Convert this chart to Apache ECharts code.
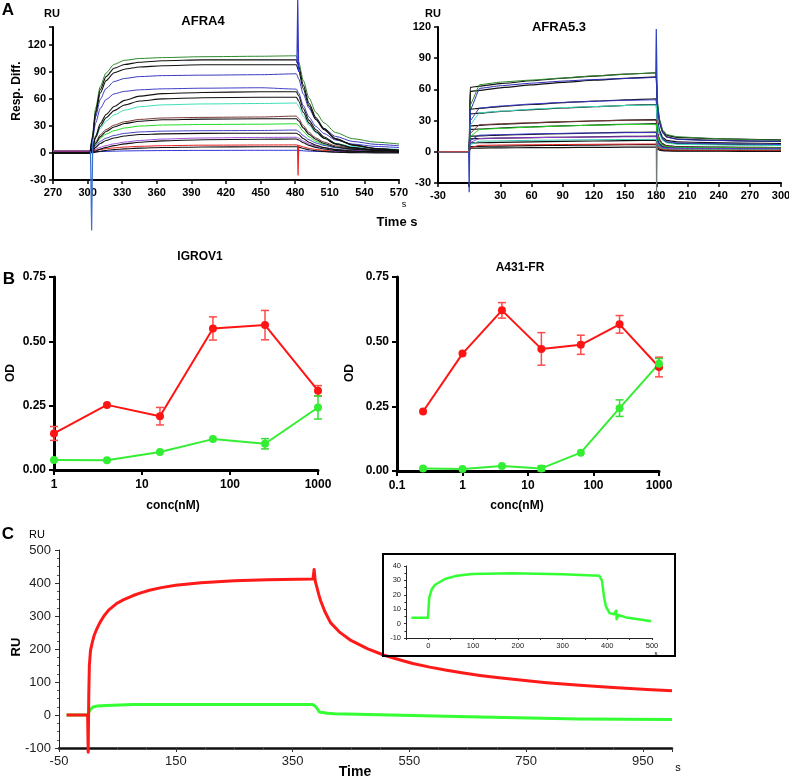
<!DOCTYPE html>
<html><head><meta charset="utf-8">
<script src="https://cdn.jsdelivr.net/npm/echarts/dist/echarts.min.js"></script>
<style>html,body{margin:0;padding:0;background:#fff}#c{width:789px;height:780px}</style>
</head><body><div id="c"></div>
<script>
// ---------- Panel A left: AFRA4 (time s, RU) ----------
const afra4Time = [270, 302, 304, 307, 311, 316, 323, 332, 345, 365, 400, 450, 481, 483, 487, 492, 498, 505, 515, 530, 550, 570];
const afra4Green108 = [2,2,18,50,74,89,98.5,103,105,106,107,107.5,108, 101,80.6,61,45,33.5,22.7,15.9,12,10];
const afra4Blue87   = [2,2,14.8,40.3,59.8,71.7,79.4,82.8,84.9,86,86.5,87,88, 82.4,65.6,49.6,36.8,27.2,18.4,12.8,9.6,8];
const afra4Blue72   = [2,2,12.5,33.5,49.6,59.4,65.7,68.5,70.2,71.3,72,72.5,71, 66.5,52.8,39.8,29.4,21.6,14.5,9.9,7.3,6];
const afra4Cyan55   = [2,2,6.2,16.8,27.4,35.4,42.3,47.6,51.4,53.5,54.5,55,55.5, 51.9,41.1,30.8,22.5,16.4,10.7,7.1,5,4];
const afra4Brown40  = [2,2,5,12.6,20.2,26,31,34.7,37.3,38.9,39.6,40,41, 38.3,30.4,22.8,16.7,12.1,7.9,5.3,3.8,3];
const afra4Lime32   = [2,2,4.4,10.4,16.4,21,24.8,27.8,29.9,31.1,31.7,32,32.5, 30.4,24,17.9,13,9.3,6,3.8,2.6,2];
const afra4Blue25   = [2,2,3.8,8.4,13,16.5,19.5,21.8,23.4,24.3,24.8,25,25.5, 23.9,19.2,14.7,11.1,8.4,5.9,4.4,3.5,3];
const afra4Purple17 = [2,2,2.8,4.3,6.3,8.2,10.2,12.1,13.9,15.5,16.7,17.3,17.5, 16.4,13.2,10.1,7.6,5.7,4,2.9,2.3,2];
const afra4Red9     = [2,2,2.4,3,4,4.8,5.7,6.6,7.4,8.1,8.7,8.9,9, 8.4,6.8,5.2,3.9,2.9,2,1.5,1.2,1];
const afra4Blue3    = [1,1,1,1.3,1.6,1.8,2,2.3,2.5,2.7,2.9,3,3, 2.9,2.4,2,1.7,1.5,1.3,1.1,1,1];
const afra4Fit103 = [0,0,15.5,46.6,70.4,84.9,94.2,98.3,100.9,102.5,103.5,103.5,103.5, 96.5,75.4,55.3,39.2,27.1,16.1,9,5,3];
const afra4Fit98  = [0,0,14.7,44.1,66.6,80.4,89.2,93.1,95.6,97,98,98,98, 91.4,71.4,52.4,37.2,25.8,15.4,8.7,4.9,3];
const afra4Fit68  = [0,0,5.4,19,32.6,42.8,51.7,58.5,63.2,66,67.3,68,68, 63.4,49.5,36.3,25.8,17.8,10.6,6,3.3,2];
const afra4Fit62  = [0,0,5,17.4,29.8,39.1,47.1,53.3,57.7,60.1,61.4,62,62, 57.8,45.2,33.2,23.6,16.4,9.8,5.6,3.2,2];
const afra4Fit38  = [0,0,3,10.6,18.2,23.9,28.9,32.7,35.3,36.9,37.6,38,38, 35.5,27.9,20.7,15,10.6,6.7,4.2,2.7,2];
const afra4Fit22  = [0,0,1.8,6.2,10.6,13.9,16.7,18.9,20.5,21.3,21.8,22,22, 20.5,16.1,11.9,8.6,6,3.7,2.3,1.4,1];
const afra4Fit15  = [0,0,0.8,2.3,4.3,6.2,8.2,10.1,11.9,13.5,14.7,15.3,15.5, 14.5,11.4,8.5,6.2,4.5,2.9,1.9,1.3,1];
const afra4Fit7   = [0,0,0.4,1,2,2.8,3.7,4.6,5.4,6.1,6.7,6.9,7, 6.5,5,3.6,2.5,1.7,0.9,0.4,0.1,0];
const afra4InjSpike = [[302.5, 2], [303.5, -86], [304.5, 15]];
const afra4EndSpike = [[481.5, 100], [482.2, 170], [483, 90]];
const afra4RedSpike = [[482, 9], [482.5, -25], [483, 8]];
const afra4YTicks = [-30, 0, 30, 60, 90, 120];

// ---------- Panel A right: AFRA5.3 ----------
const afra53Time = [-30, 0, 1, 10, 30, 60, 90, 120, 150, 180, 181, 183, 186, 190, 200, 230, 260, 300];
const afra53Green = [0,0,45,64.5,67,69,71,73,74.5,76, 50,32,21,16.5,14.5,13,12,11];
const afra53Blue1 = [0,0,40,61,63.5,66,68,69.5,70.5,71.5, 45,29,19,14,12,11,10.5,10];
const afra53Blue2 = [0,0,30,42,44,46,47.5,48.5,49.5,50, 30,19,12.5,10,8.5,8,7.5,7];
const afra53Cyan  = [0,0,26,37.5,39,41,42.5,43.5,44.5,45, 27,17,11,8.5,7.2,6.7,6.3,6];
const afra53Brown = [0,0,18,26,27,28,29,29.8,30.3,30.5, 18.5,11.5,7.5,5.6,4.8,4.4,4.2,4];
const afra53Lime  = [0,0,15,21.5,22.5,23.8,24.8,25.6,26.2,26.5, 16,10,6.5,5,4.2,3.9,3.7,3.5];
const afra53Blue3 = [0,0,11,16,16.5,17.2,17.7,18.1,18.4,18.5, 11.5,7.5,5,4,3.5,3.3,3.1,3];
const afra53Purple= [0,0,9,12.8,13.2,13.6,14,14.2,14.4,14.5, 9,6,4,3.3,2.9,2.7,2.6,2.5];
const afra53Teal  = [0,0,7,10.2,10.5,11,11.3,11.6,11.8,12, 7.5,5,3.3,2.6,2.3,2.2,2.1,2];
const afra53Red   = [0,0,4,6.2,6.5,6.8,7,7.2,7.4,7.5, 4.8,3.2,2.2,1.8,1.6,1.5,1.5,1.5];
const afra53FitA = [0,0,62,63.1,65.5,68.3,70.7,72.8,74.6,76, 47,30.9,20.5,16,13.8,12.8,12.1,11.5];
const afra53FitB = [0,0,58,59.1,61.5,64.3,66.7,68.8,70.6,72, 44.1,28.6,18.7,14.3,12.2,11.2,10.6,10];
const afra53FitC = [0,0,41,41.8,43.5,45.5,47.2,48.7,50,51, 31.7,20.9,14,11,9.5,8.9,8.4,8];
const afra53FitD = [0,0,36.5,37.2,38.8,40.6,42.1,43.4,44.6,45.5, 28,18.2,12,9.2,7.9,7.3,6.9,6.5];
const afra53FitE = [0,0,25,25.5,26.5,27.7,28.7,29.6,30.4,31, 18.9,12.1,7.8,5.9,4.9,4.5,4.3,4];
const afra53FitF = [0,0,21.5,21.9,22.9,24,24.9,25.7,26.5,27, 16.4,10.6,6.8,5.1,4.3,4,3.7,3.5];
const afra53FitG = [0,0,15,15.3,16,16.8,17.5,18.1,18.6,19, 11.8,7.8,5.2,4.1,3.6,3.3,3.2,3];
const afra53FitH = [0,0,12.5,12.7,13.1,13.6,14,14.4,14.8,15, 9.4,6.3,4.3,3.4,2.9,2.8,2.6,2.5];
const afra53FitI = [0,0,8.5,8.7,9.1,9.6,10,10.4,10.8,11, 7,4.7,3.3,2.6,2.3,2.2,2.1,2];
const afra53FitJ = [0,0,5,5.2,5.5,5.9,6.2,6.5,6.8,7, 4.3,2.8,1.8,1.4,1.2,1.1,1.05,1];
const afra53FitK = [0,0,3.5,3.6,3.8,4,4.1,4.3,4.4,4.5, 2.7,1.7,1.1,0.8,0.6,0.55,0.5,0.5];
const afra53InjSpike = [[-0.5, 0], [0, -39], [0.8, 40]];
const afra53EndSpike = [[179.5, 72], [180, 118], [181, 45]];
const afra53GreySpike = [[180, 10], [180.3, -39], [180.8, 5]];

// ---------- Panel B: ELISA OD vs conc(nM) ----------
const igrovConc = [1, 4, 16, 64, 250, 1000];
const igrovRed = [0.142, 0.253, 0.209, 0.550, 0.563, 0.308];
const igrovRedErr = [0.027, 0, 0.034, 0.045, 0.057, 0.02];
const igrovGreen = [0.039, 0.038, 0.070, 0.120, 0.102, 0.243];
const igrovGreenErr = [0, 0, 0, 0, 0.02, 0.045];
const a431Conc = [0.25, 1, 4, 16, 64, 250, 1000];
const a431Red = [0.230, 0.454, 0.621, 0.472, 0.488, 0.567, 0.402];
const a431RedErr = [0, 0, 0.03, 0.063, 0.037, 0.034, 0.038];
const a431Green = [0.010, 0.008, 0.019, 0.010, 0.071, 0.243, 0.415];
const a431GreenErr = [0, 0, 0, 0.01, 0, 0.032, 0.02];

// ---------- Panel C: sensorgram ----------
const cRedTime = [-37, -1, 0, 1, 2, 4, 7, 10, 15, 20, 27, 35, 48, 60, 77, 90, 105, 125, 150, 193, 250, 307, 385, 387, 389, 392, 395, 398, 405, 415, 430, 450, 478, 507, 536, 556, 585, 614, 640, 671, 700, 728, 785, 842, 899, 957, 1000];
const cRedRU   = [0, 0, -113, 60, 150, 196, 220, 240, 262, 280, 300, 318, 337, 349, 362, 370, 378, 386, 393, 401, 407, 410, 412, 441, 405, 385, 365, 347, 315, 280, 252, 226, 201, 181, 166, 156, 145, 135.5, 128, 120, 113.5, 108, 98, 90, 83.5, 77.5, 73.5];
const cGreenTime = [-37, -1, 1, 3, 8, 15, 31, 77, 193, 300, 385, 390, 396, 410, 422, 499, 536, 671, 842, 1000];
const cGreenRU   = [0, 0, 3, 15, 24, 27, 29, 32, 32, 31.5, 31.5, 25, 9, 5, 4, 1, -1, -6, -12, -14];
const insetTime = [-38, -1, 0, 2, 7.5, 15, 37, 60, 97, 187, 300, 382, 388, 393, 397, 405, 415, 420, 421, 425, 442, 470, 498];
const insetRU   = [4, 4, 5, 18, 23.8, 27, 31, 33, 34.5, 35, 34.2, 33.3, 30, 18, 11.9, 7.3, 6.5, 9, 3, 6, 4.3, 3, 1.6];

// ---------- build ----------
const FONT = 'Liberation Sans, Arial, sans-serif';
const zip = (xs, ys) => xs.map((x, i) => [x, ys[i]]);
const BLK = '#111';

function trace(xi, yi, xs, ys, color, w, sm) {
  const s = {type:'line', xAxisIndex:xi, yAxisIndex:yi, data: zip(xs, ys), symbol:'none', showSymbol:false,
          lineStyle:{color:color, width:w||1, join:'round'}, itemStyle:{color:color}, silent:true};
  if (sm !== 0) { s.smooth = sm || 0.25; s.smoothMonotone = 'x'; }
  return s;
}
function spike(xi, yi, pts, color) {
  return {type:'line', xAxisIndex:xi, yAxisIndex:yi, data: pts, symbol:'none', clip:false,
          lineStyle:{color:color, width:1.2}, silent:true, z:4};
}
function errBars(xi, yi, xs, ys, es, color) {
  return {type:'custom', xAxisIndex:xi, yAxisIndex:yi, silent:true, z:3,
    data: xs.map((x,i)=>[x, ys[i], es[i]]).filter(d=>d[2]>0),
    encode:{x:0, y:1},
    renderItem: function(params, api) {
      const x = api.value(0), y = api.value(1), e = api.value(2);
      const t = api.coord([x, y+e]), b = api.coord([x, y-e]), w = 4;
      const st = {stroke:color, lineWidth:1.5};
      return {type:'group', children:[
        {type:'line', shape:{x1:t[0], y1:t[1], x2:b[0], y2:b[1]}, style:st},
        {type:'line', shape:{x1:t[0]-w, y1:t[1], x2:t[0]+w, y2:t[1]}, style:st},
        {type:'line', shape:{x1:b[0]-w, y1:b[1], x2:b[0]+w, y2:b[1]}, style:st}
      ]};
    }};
}
function dots(xi, yi, xs, ys, color) {
  return {type:'line', xAxisIndex:xi, yAxisIndex:yi, data: zip(xs, ys), symbol:'circle', symbolSize:8, showSymbol:true,
          lineStyle:{color:color, width:2}, itemStyle:{color:color}, silent:true, z:4};
}

const series = [];
// A left
[[afra4Green108,'#2e8b2e'],[afra4Blue87,'#3a3ac0'],[afra4Blue72,'#4040c8'],[afra4Cyan55,'#3ee0b8'],
 [afra4Brown40,'#7a3a3a'],[afra4Lime32,'#22dd22'],[afra4Blue25,'#4444cc'],[afra4Purple17,'#a050e0'],
 [afra4Red9,'#e82020'],[afra4Blue3,'#3333dd']].forEach(p => series.push(trace(0,0,afra4Time,p[0],p[1])));
[afra4Fit103,afra4Fit98,afra4Fit68,afra4Fit62,afra4Fit38,afra4Fit22,afra4Fit15,afra4Fit7]
  .forEach(v => series.push(trace(0,0,afra4Time,v,BLK,1.1)));
series.push(spike(0,0,afra4InjSpike,'#3a70d0'));
series.push(spike(0,0,afra4EndSpike,'#3333cc'));
series.push(spike(0,0,afra4RedSpike,'#e82020'));
// A right
[afra53FitA,afra53FitB,afra53FitC,afra53FitD,afra53FitE,afra53FitF,afra53FitG,afra53FitH,afra53FitI,afra53FitJ,afra53FitK]
  .forEach(v => series.push(trace(1,1,afra53Time,v,BLK,1.2,0.1)));
[[afra53Green,'#2e8b2e'],[afra53Blue1,'#2a2ab8'],[afra53Blue2,'#3a3ac8'],[afra53Cyan,'#3ee0c0'],
 [afra53Brown,'#7a3a3a'],[afra53Lime,'#22dd22'],[afra53Blue3,'#3434c4'],[afra53Purple,'#9a44dd'],
 [afra53Teal,'#30c8b0'],[afra53Red,'#e82020']].forEach(p => series.push(trace(1,1,afra53Time,p[0],p[1],1,0.1)));
series.push(spike(1,1,afra53InjSpike,'#2a40c0'));
series.push(spike(1,1,afra53EndSpike,'#2a40c0'));
series.push(spike(1,1,afra53GreySpike,'#707878'));
// B
series.push(dots(2,2,igrovConc,igrovRed,'#ff1414'));
series.push(dots(2,2,igrovConc,igrovGreen,'#33ee33'));
series.push(errBars(2,2,igrovConc,igrovRed,igrovRedErr,'#ff4a4a'));
series.push(errBars(2,2,igrovConc,igrovGreen,igrovGreenErr,'#33dd33'));
series.push(dots(3,3,a431Conc,a431Red,'#ff1414'));
series.push(dots(3,3,a431Conc,a431Green,'#33ee33'));
series.push(errBars(3,3,a431Conc,a431Red,a431RedErr,'#ff4a4a'));
series.push(errBars(3,3,a431Conc,a431Green,a431GreenErr,'#33dd33'));
// C
series.push(trace(4,4,cGreenTime,cGreenRU,'#33ff33',3,0));
series.push(Object.assign(trace(4,4,cRedTime,cRedRU,'#ff1a1a',3,0), {clip:false}));
series.push(trace(5,5,insetTime,insetRU,'#33ff33',2.5,0));

function axA(extra) {
  return Object.assign({type:'value', splitLine:{show:false},
    axisLine:{onZero:false, lineStyle:{color:'#000', width:2}},
    axisTick:{length:4, lineStyle:{color:'#000', width:1.5}},
    axisLabel:{color:'#000', fontFamily:FONT, fontWeight:'bold', fontSize:11, margin:7}}, extra);
}
function axB(extra) {
  return Object.assign({splitLine:{show:false},
    axisLine:{onZero:false, lineStyle:{color:'#000', width:3}},
    axisTick:{length:5, lineStyle:{color:'#000', width:2}},
    axisLabel:{color:'#000', fontFamily:FONT, fontWeight:'bold', fontSize:12, margin:9}}, extra);
}
const logFmt = v => v < 1 ? (+v).toFixed(1) : String(Math.round(v));

const option = {
  animation:false,
  backgroundColor:'#fff',
  grid:[
    {left:53, top:27, width:346, height:153, containLabel:false, outerBoundsMode:'none'},
    {left:438, top:27, width:343, height:156, containLabel:false, outerBoundsMode:'none'},
    {left:54, top:277, width:264, height:193, containLabel:false, outerBoundsMode:'none'},
    {left:397, top:277, width:262, height:194, containLabel:false, outerBoundsMode:'none'},
    {left:59, top:550, width:613, height:198, containLabel:false, outerBoundsMode:'none'},
    {left:406, top:566, width:246, height:72, containLabel:false, outerBoundsMode:'none'}
  ],
  xAxis:[
    axA({gridIndex:0, min:270, max:570, interval:30}),
    axA({gridIndex:1, min:-30, max:300, interval:30, axisLabel:{color:'#000', fontFamily:FONT, fontWeight:'bold', fontSize:11, margin:7, formatter:v => v===0 ? '' : String(v)}}),
    axB({type:'log', logBase:10, gridIndex:2, min:1, max:1000, axisLabel:{color:'#000', fontFamily:FONT, fontWeight:'bold', fontSize:12, margin:9, formatter:logFmt}}),
    axB({type:'log', logBase:10, gridIndex:3, min:0.1, max:1000, axisLabel:{color:'#000', fontFamily:FONT, fontWeight:'bold', fontSize:12, margin:9, formatter:logFmt}}),
    {type:'value', gridIndex:4, min:-50, max:1000, interval:200, splitLine:{show:false},
      axisLine:{onZero:false, lineStyle:{color:'#111', width:2.5}},
      axisTick:{length:4, lineStyle:{color:'#333'}},
      minorTick:{show:true, splitNumber:4, length:2, lineStyle:{color:'#555'}},
      axisLabel:{color:'#222', fontFamily:FONT, fontSize:13, margin:7, formatter:v => v===1000 ? '' : String(v)}},
    {type:'value', gridIndex:5, min:-50, max:500, interval:50, splitLine:{show:false},
      axisLine:{onZero:false, lineStyle:{color:'#222', width:1}},
      axisTick:{length:2, lineStyle:{color:'#333'}},
      axisLabel:{color:'#222', fontFamily:FONT, fontSize:7.5, margin:4, formatter:v => (v % 100 === 0) ? String(v) : ''}}
  ],
  yAxis:[
    axA({gridIndex:0, min:-30, max:140, interval:30, axisLabel:{color:'#000', fontFamily:FONT, fontWeight:'bold', fontSize:11, margin:7, formatter:v => afra4YTicks.indexOf(v) >= 0 ? String(v) : ''}}),
    axA({gridIndex:1, min:-30, max:120, interval:30}),
    axB({type:'value', gridIndex:2, min:0, max:0.75, interval:0.25, axisLabel:{color:'#000', fontFamily:FONT, fontWeight:'bold', fontSize:12, margin:8, formatter:v => (+v).toFixed(2)}}),
    axB({type:'value', gridIndex:3, min:0, max:0.75, interval:0.25, axisLabel:{color:'#000', fontFamily:FONT, fontWeight:'bold', fontSize:12, margin:8, formatter:v => (+v).toFixed(2)}}),
    {type:'value', gridIndex:4, min:-100, max:500, interval:100, splitLine:{show:false},
      axisLine:{show:true, onZero:false, lineStyle:{color:'#222', width:1}},
      axisTick:{show:true, length:4, lineStyle:{color:'#333'}},
      minorTick:{show:true, splitNumber:4, length:2, lineStyle:{color:'#555'}},
      axisLabel:{color:'#222', fontFamily:FONT, fontSize:13, margin:8}},
    {type:'value', gridIndex:5, min:-10, max:40, interval:10, splitLine:{show:false},
      axisLine:{show:true, onZero:false, lineStyle:{color:'#222', width:1}},
      axisTick:{show:true, length:2, lineStyle:{color:'#333'}},
      minorTick:{show:true, splitNumber:2, length:1.5},
      axisLabel:{color:'#222', fontFamily:FONT, fontSize:7.5, margin:5}}
  ],
  series: series,
  graphic: []
};

function txt(x, y, s, size, bold, rot, align) {
  return {type:'text', x:x, y:y, rotation:rot||0, silent:true, z:10,
    style:{text:s, fill:'#000', font:(bold?'bold ':'') + size + 'px ' + FONT, textAlign:align||'center', textVerticalAlign:'middle'}};
}
option.graphic = [
  txt(8, 10, 'A', 17, true),
  txt(52, 14, 'RU', 11, true),
  txt(203, 21, 'AFRA4', 13, true),
  txt(17, 91, 'Resp. Diff.', 12, true, Math.PI/2),
  txt(404, 205, 's', 9, false),
  txt(397, 222, 'Time s', 13, true),
  txt(433, 14, 'RU', 11, true),
  txt(559, 27, 'AFRA5.3', 13, true),
  txt(9, 279, 'B', 17, true),
  txt(200, 257, 'IGROV1', 12, true),
  txt(520, 268, 'A431-FR', 12, true),
  txt(11, 373, 'OD', 12, true, Math.PI/2),
  txt(350, 373, 'OD', 12, true, Math.PI/2),
  txt(173, 506, 'conc(nM)', 12, true),
  txt(517, 506, 'conc(nM)', 12, true),
  txt(8, 534, 'C', 17, true),
  txt(37, 535, 'RU', 11, false),
  txt(16, 647, 'RU', 13, true, Math.PI/2),
  txt(355, 772, 'Time', 14, true),
  txt(678, 768, 's', 11, false),
  txt(656, 653, 's', 6, false),
  {type:'rect', shape:{x:383, y:554, width:292, height:102}, style:{stroke:'#000', lineWidth:2, fill:'transparent'}, silent:true, z:10}
];

const chart = echarts.init(document.getElementById('c'), null, {renderer:'canvas'});
chart.setOption(option);
</script></body></html>
